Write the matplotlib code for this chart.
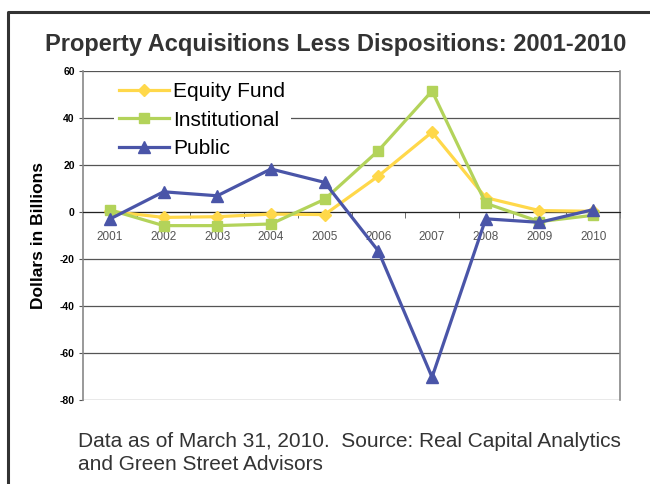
import matplotlib
matplotlib.use("Agg")
import matplotlib.pyplot as plt
from matplotlib.lines import Line2D
import numpy as np

plt.rcParams['font.family'] = ['Liberation Sans', 'DejaVu Sans']

years = ['2001', '2002', '2003', '2004', '2005', '2006', '2007', '2008', '2009', '2010']
equity_fund = [0.3, -2.3, -2.0, -0.9, -1.1, 15.3, 34.0, 6.1, 0.6, 0.3]
institutional = [0.9, -5.8, -5.8, -5.1, 5.4, 26.1, 51.5, 3.7, -4.1, -1.4]
public = [-3.0, 8.6, 6.9, 18.3, 12.6, -16.6, -70.3, -2.9, -4.4, 1.0]
y_ticks = [60, 40, 20, 0, -20, -40, -60, -80]

fig = plt.figure(figsize=(6.5, 4.84), dpi=100)
ax = fig.add_axes([83/650, 1-400/484, (620-83)/650, (400-71)/484])

x = np.arange(len(years))
ax.plot(x, equity_fund, color='#FFD84A', lw=2.3, marker='D', ms=6, label='Equity Fund', zorder=3)
ax.plot(x, institutional, color='#B3D35A', lw=2.3, marker='s', ms=7.5, label='Institutional', zorder=3)
ax.plot(x, public, color='#4A55A8', lw=2.3, marker='^', ms=8.5, label='Public', zorder=4)

ax.set_xlim(-0.5, len(years) - 0.5)
ax.set_ylim(-80, 60)
ax.set_yticks(y_ticks)
ax.set_yticklabels([str(v) for v in y_ticks], fontsize=7.5, fontweight='bold')
ax.yaxis.grid(True, color='#555555', lw=0.9)
ax.set_axisbelow(True)

ax.spines['bottom'].set_position(('data', 0))
ax.spines['bottom'].set_color('#222222')
ax.spines['top'].set_visible(False)
for s in ['left', 'right']:
    ax.spines[s].set_color('#888888')
    ax.spines[s].set_linewidth(1.2)

ax.set_xticks(x)
ax.set_xticklabels(years, fontsize=8.5, color='#555555')
ax.tick_params(axis='x', which='major', length=0, pad=14)
ax.set_xticks(np.arange(-0.5, len(years), 1.0)[1:], minor=True)
ax.tick_params(axis='x', which='minor', length=4, direction='out', color='#555555')
ax.tick_params(axis='y', length=3, color='#555555', pad=3)

ax.set_ylabel('Dollars in Billions', fontsize=12.5, fontweight='bold', labelpad=10)

leg = ax.legend(loc='upper left', bbox_to_anchor=(114/650, 1-77/484), bbox_transform=fig.transFigure,
                fontsize=15, frameon=True, framealpha=1, edgecolor='none', facecolor='white',
                handlelength=2.4, handletextpad=0.2, labelspacing=0.45, borderpad=0.25, borderaxespad=0)
leg.get_frame().set_linewidth(0)

fig.text(0.517, 1-45/484, 'Property Acquisitions Less Dispositions: 2001-2010', ha='center', va='center',
         fontsize=17, fontweight='bold', color='#333333')

fig.text(78/650, 1-453/484, 'Data as of March 31, 2010.  Source: Real Capital Analytics\nand Green Street Advisors',
         ha='left', va='center', fontsize=15, color='#333333', linespacing=1.3)

fig.add_artist(Line2D([8/650, 8/650, 1.0], [0.0, 1-12/484, 1-12/484], transform=fig.transFigure,
                      color='#333333', lw=2.2))

fig.savefig('out.png', dpi=100)
